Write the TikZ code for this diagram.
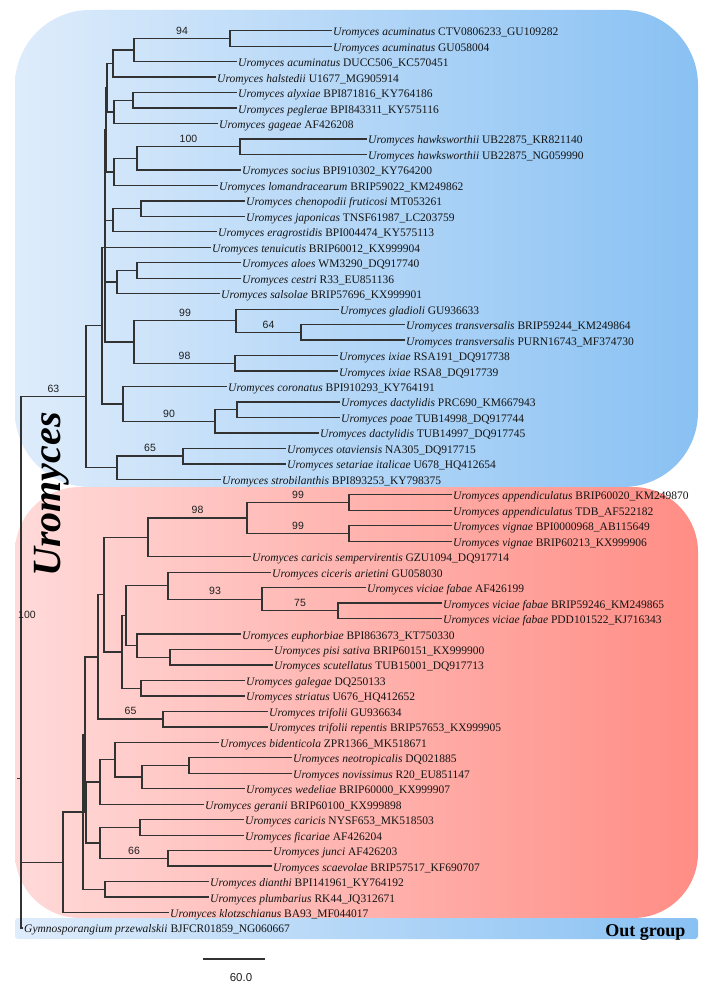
\documentclass[tikz,border=0pt]{standalone}
\usepackage{fontspec}
\setmainfont{Liberation Serif}
\newfontfamily\bootfont{Liberation Sans}
\definecolor{cladeblueL}{RGB}{222,236,251}
\definecolor{cladeblueR}{RGB}{137,193,243}
\definecolor{claderedL}{RGB}{255,218,217}
\definecolor{claderedR}{RGB}{255,141,133}
\definecolor{branchgray}{RGB}{50,50,50}
\newcommand{\rowy}[1]{15.23+15.47*#1}
\tikzset{
	branch/.style={draw=branchgray, line width=1.3pt},
	leaf/.style={anchor=west, inner sep=1.5pt, text height=11pt, text depth=1pt, font=\fontsize{11.5}{12}\selectfont, text=black!92},
	bootval/.style={inner sep=1pt, font=\bootfont\fontsize{10.5}{11}\selectfont, text=black!88},
	boot/.style={bootval, pos=.75, above=3pt},
}
\begin{document}
\begin{tikzpicture}[x=1pt, y=-1pt]
		\useasboundingbox (0,0) rectangle (712,992);
		\shade[left color=cladeblueL, right color=cladeblueR, rounded corners=75pt] (15,10) rectangle (698,487);
		\shade[left color=claderedL, right color=claderedR, rounded corners=65pt] (15,487) rectangle (698,918);
		\shade[left color=cladeblueL, right color=cladeblueR, rounded corners=3pt] (15,918) rectangle (698,939);
		\node[anchor=base east, font=\bfseries\fontsize{18}{18}\selectfont] (outlbl) at (689,936) {Out group};
		\node[rotate=90, anchor=base, font=\bfseries\itshape\fontsize{40}{40}\selectfont] (genus) at (60,494.5) {Uromyces};
		
		% leaves
		\foreach \r/\x/\sp/\id in {
			1/331.5/Uromyces acuminatus/CTV0806233\_GU109282,
			2/331.5/Uromyces acuminatus/GU058004,
			3/236.5/Uromyces acuminatus/DUCC506\_KC570451,
			4/215.5/Uromyces halstedii/U1677\_MG905914,
			5/236.5/Uromyces alyxiae/BPI871816\_KY764186,
			6/236.5/Uromyces peglerae/BPI843311\_KY575116,
			7/217.5/Uromyces gageae/AF426208,
			8/366.5/Uromyces hawksworthii/UB22875\_KR821140,
			9/366.5/Uromyces hawksworthii/UB22875\_NG059990,
			10/240.5/Uromyces socius/BPI910302\_KY764200,
			11/217.5/Uromyces lomandracearum/BRIP59022\_KM249862,
			12/244.5/Uromyces chenopodii fruticosi/MT053261,
			13/244.5/Uromyces japonicas/TNSF61987\_LC203759,
			14/216.5/Uromyces eragrostidis/BPI004474\_KY575113,
			15/210.5/Uromyces tenuicutis/BRIP60012\_KX999904,
			16/240.5/Uromyces aloes/WM3290\_DQ917740,
			17/240.5/Uromyces cestri/R33\_EU851136,
			18/219.5/Uromyces salsolae/BRIP57696\_KX999901,
			19/338.5/Uromyces gladioli/GU936633,
			20/404.5/Uromyces transversalis/BRIP59244\_KM249864,
			21/404.5/Uromyces transversalis/PURN16743\_MF374730,
			22/337.5/Uromyces ixiae/RSA191\_DQ917738,
			23/337.5/Uromyces ixiae/RSA8\_DQ917739,
			24/226.5/Uromyces coronatus/BPI910293\_KY764191,
			25/339.5/Uromyces dactylidis/PRC690\_KM667943,
			26/339.5/Uromyces poae/TUB14998\_DQ917744,
			27/318.5/Uromyces dactylidis/TUB14997\_DQ917745,
			28/285.5/Uromyces otaviensis/NA305\_DQ917715,
			29/285.5/Uromyces setariae italicae/U678\_HQ412654,
			30/220.5/Uromyces strobilanthis/BPI893253\_KY798375,
			31/451.5/Uromyces appendiculatus/BRIP60020\_KM249870,
			32/451.5/Uromyces appendiculatus/TDB\_AF522182,
			33/451.5/Uromyces vignae/BPI0000968\_AB115649,
			34/451.5/Uromyces vignae/BRIP60213\_KX999906,
			35/250.5/Uromyces caricis sempervirentis/GZU1094\_DQ917714,
			36/270.5/Uromyces ciceris arietini/GU058030,
			37/365.5/Uromyces viciae fabae/AF426199,
			38/441.5/Uromyces viciae fabae/BRIP59246\_KM249865,
			39/441.5/Uromyces viciae fabae/PDD101522\_KJ716343,
			40/240.5/Uromyces euphorbiae/BPI863673\_KT750330,
			41/272.5/Uromyces pisi sativa/BRIP60151\_KX999900,
			42/272.5/Uromyces scutellatus/TUB15001\_DQ917713,
			43/244.5/Uromyces galegae/DQ250133,
			44/244.5/Uromyces striatus/U676\_HQ412652,
			45/267.5/Uromyces trifolii/GU936634,
			46/267.5/Uromyces trifolii repentis/BRIP57653\_KX999905,
			47/218.5/Uromyces bidenticola/ZPR1366\_MK518671,
			48/291.5/Uromyces neotropicalis/DQ021885,
			49/291.5/Uromyces novissimus/R20\_EU851147,
			50/244.5/Uromyces wedeliae/BRIP60000\_KX999907,
			51/203.5/Uromyces geranii/BRIP60100\_KX999898,
			52/243.5/Uromyces caricis/NYSF653\_MK518503,
			53/243.5/Uromyces ficariae/AF426204,
			54/271.5/Uromyces junci/AF426203,
			55/271.5/Uromyces scaevolae/BRIP57517\_KF690707,
			56/208.5/Uromyces dianthi/BPI141961\_KY764192,
			57/208.5/Uromyces plumbarius/RK44\_JQ312671,
			58/168.5/Uromyces klotzschianus/BA93\_MF044017,
			59/22.5/Gymnosporangium przewalskii/BJFCR01859\_NG060667}
		\node[leaf] (L\r) at (\x, {\rowy{\r}}) {\textit{\sp} \id};
		
		% internal nodes
		\foreach \n/\x/\r in {n94/230/1.5, a11/134/2.25, a1/113/3.125, a22/133/5.5, a2/114/6.25, gA/107/4.6875,
			n100/240/8.5, b1/137/9.25, gB/114/10.125, gAB/106/7.40625, c1/141/12.5, gC/113/13.25,
			d1/137/16.5, gD/117/17.25, n64/301/20.5, n99a/236/19.75, n98a/235/22.5, gE/134/21.125,
			gV/105/15, f1/237/25.5, n90/215/26.25, gF/123/25.125, gY/102/20.0625,
			n65a/183/28.5, gG/117/29.25, gX/86/24.65625,
			n99b/349/31.5, n99c/349/33.5, n98b/247/32.5, gH/148/33.75, n75/338/38.5, n93/262/37.75,
			k1/168/36.875, m1/170/41.5, gM/137/40.75, gK/126/38.8125, j2/141/43.5, gJ/122/41.15625,
			gI/104/37.453, n65b/163/45.5, gP/98/41.477, e1/189/48.5, e2/142/49.25, e3/115/48.125,
			gN/100/49.5625, o1/140/52.5, n66/168/54.5, gO/100/53.5, gR/86/51.53, gQ/85/46.5,
			dp/105/56.5, gW/83/51.5, red/63/54.75, ingroup/21/39.70, root/21/49.35}
		\coordinate (\n) at (\x, {\rowy{\r}});
		\coordinate (stub) at (17, {\rowy{49.35}});
		
		% branches
		\foreach \p/\c in {n94/L1, n94/L2, a11/n94, a11/L3, a1/a11, a1/L4, a22/L5, a22/L6, a2/a22, a2/L7,
			gA/a1, gA/a2, n100/L8, n100/L9, b1/n100, b1/L10, gB/b1, gB/L11, gAB/gA, gAB/gB,
			c1/L12, c1/L13, gC/c1, gC/L14, d1/L16, d1/L17, gD/d1, gD/L18, n64/L20, n64/L21,
			n99a/L19, n99a/n64, n98a/L22, n98a/L23, gE/n99a, gE/n98a,
			gV/gAB, gV/gC, gV/L15, gV/gD, gV/gE, f1/L25, f1/L26, n90/f1, n90/L27, gF/L24, gF/n90,
			gY/gV, gY/gF, n65a/L28, n65a/L29, gG/n65a, gG/L30, gX/gY, gX/gG,
			n99b/L31, n99b/L32, n99c/L33, n99c/L34, n98b/n99b, n98b/n99c, gH/n98b, gH/L35,
			n75/L38, n75/L39, n93/L37, n93/n75, k1/L36, k1/n93, m1/L41, m1/L42, gM/L40, gM/m1,
			gK/k1, gK/gM, j2/L43, j2/L44, gJ/gK, gJ/j2, gI/gH, gI/gJ, n65b/L45, n65b/L46,
			gP/gI, gP/n65b, e1/L48, e1/L49, e2/e1, e2/L50, e3/L47, e3/e2, gN/e3, gN/L51,
			o1/L52, o1/L53, n66/L54, n66/L55, gO/o1, gO/n66, gR/gN, gR/gO, gQ/gP, gQ/gR,
			dp/L56, dp/L57, gW/gQ, gW/dp, red/gW, red/L58, ingroup/gX, ingroup/red, root/ingroup, root/L59}
		\draw[branch] (\p) |- (\c);
		\draw[branch] (stub) -- (root);
		
		% bootstrap values
		\foreach \p/\c/\v in {a11/n94/94, b1/n100/100, gE/n99a/99, n99a/n64/64, gE/n98a/98, gF/n90/90,
			gG/n65a/65, ingroup/gX/63, n98b/n99b/99, n98b/n99c/99, gH/n98b/98, k1/n93/93, n93/n75/75,
			gP/n65b/65, gO/n66/66}
		\path (\p) |- node[boot] (bs\c) {\v} (\c);
		\node[bootval] (bsingroup) at (27,615) {100};
		
		% scale bar
		\coordinate (sb1) at (203,959);
		\coordinate (sb2) at (265,959);
		\draw[branch, line width=1.1pt] (sb1) -- (sb2);
		\node[font=\bootfont\fontsize{11.5}{12}\selectfont, text=black!88] (sblbl) at (241,978) {60.0};
	\end{tikzpicture}
\end{document}
